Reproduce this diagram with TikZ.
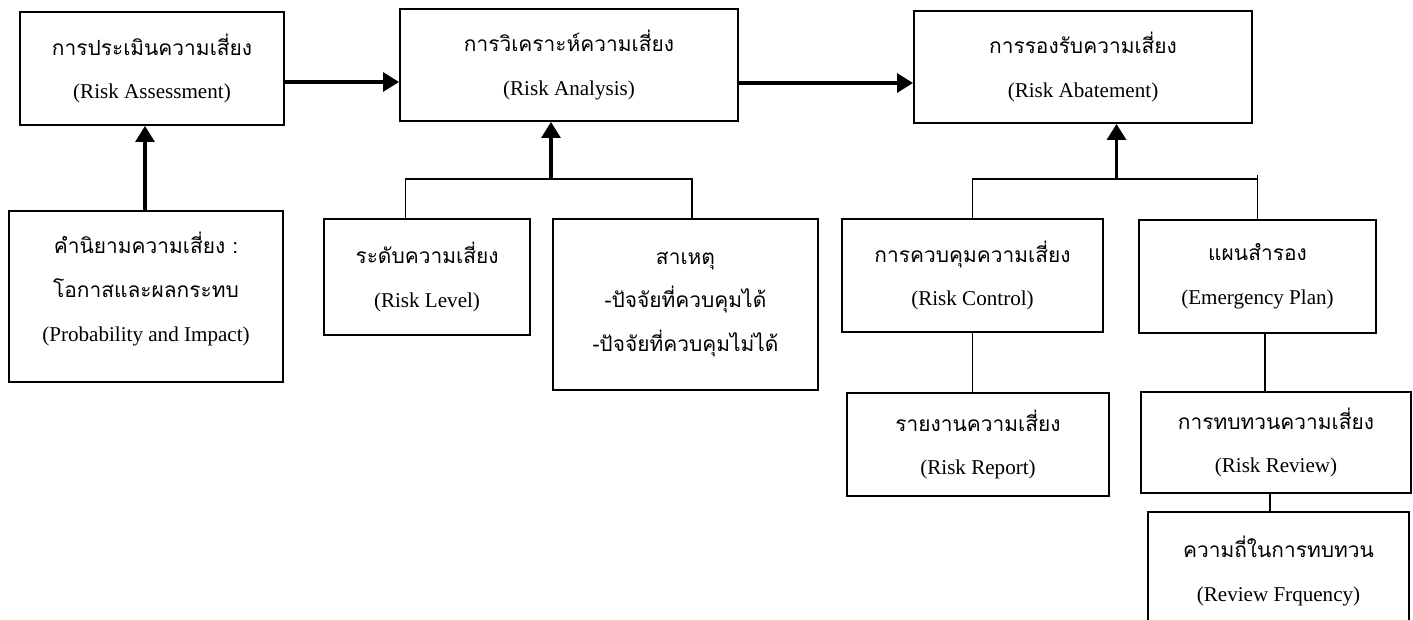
\documentclass[tikz,border=0pt]{standalone}
\usepackage{fontspec}
\setmainfont{Liberation Serif}
\newfontfamily\thaifont[Script=Thai]{Loma}
\newcommand{\thai}[1]{{\thaifont\fontsize{11.9}{25}\selectfont #1}}
\usetikzlibrary{positioning,arrows.meta}

\begin{document}
\begin{tikzpicture}

% Define styles
\tikzstyle{box} = [rectangle, draw=black, line width=1.1pt, align=center, inner sep=0pt, font=\fontsize{12}{25}\selectfont]
\tikzstyle{flow} = [line width=1.8pt, -{Triangle[length=0.32cm,width=0.38cm]}]
\tikzstyle{link} = [line width=0.6pt]

\useasboundingbox (0,0) rectangle (28.26,-12.38);

% Top row
\node [box, minimum width=5.28cm, minimum height=2.26cm] (assess) at (3.04,-1.37) {\thai{การประเมินความเสี่ยง}\\(Risk Assessment)};
\node [box, minimum width=6.76cm, minimum height=2.24cm] (analysis) at (11.38,-1.30) {\thai{การวิเคราะห์ความเสี่ยง}\\(Risk Analysis)};
\node [box, minimum width=6.76cm, minimum height=2.24cm] (abatement) at (21.66,-1.34) {\thai{การรองรับความเสี่ยง}\\(Risk Abatement)};

% Second row
\node [box, minimum width=5.48cm, minimum height=3.42cm] (prob) at (2.92,-5.93) {\thai{คำนิยามความเสี่ยง :}\\\thai{โอกาสและผลกระทบ}\\(Probability and Impact)\rule[-0.4cm]{0pt}{0pt}};
\node [box, minimum width=4.12cm, minimum height=2.32cm] (level) at (8.54,-5.54) {\thai{ระดับความเสี่ยง}\\(Risk Level)};
\node [box, minimum width=5.30cm, minimum height=3.42cm] (cause) at (13.71,-6.09) {\thai{สาเหตุ}\\\thai{-ปัจจัยที่ควบคุมได้}\\\thai{-ปัจจัยที่ควบคุมไม่ได้}};
\node [box, minimum width=5.22cm, minimum height=2.26cm] (control) at (19.45,-5.51) {\thai{การควบคุมความเสี่ยง}\\(Risk Control)};
\node [box, minimum width=4.74cm, minimum height=2.26cm] (plan) at (25.15,-5.53) {\thai{แผนสำรอง}\\(Emergency Plan)};

% Lower rows
\node [box, minimum width=5.24cm, minimum height=2.06cm] (report) at (19.56,-8.89) {\thai{รายงานความเสี่ยง}\\(Risk Report)};
\node [box, minimum width=5.40cm, minimum height=2.02cm] (review) at (25.52,-8.85) {\thai{การทบทวนความเสี่ยง}\\(Risk Review)};
\node [box, minimum width=5.22cm, minimum height=2.36cm] (freq) at (25.57,-11.42) {\thai{ความถี่ในการทบทวน}\\(Review Frquency)};

% Bracket points
\coordinate (anabar) at (11.02,-3.58);
\coordinate (anal) at (8.11,-3.58);
\coordinate (anar) at (13.84,-3.58);
\coordinate (abtbar) at (22.33,-3.58);

% Main flow
\draw [flow] ([yshift=-0.27cm]assess.east) -- ([yshift=-0.27cm]assess.east -| analysis.west);
\draw [flow] ([yshift=-0.36cm]analysis.east) -- ([yshift=-0.36cm]analysis.east -| abatement.west);
\draw [flow] (prob.north -| 2.90,0) -- (assess.south -| 2.90,0);
\draw [flow] (anabar) -- (anabar |- analysis.south);
\draw [flow] (abtbar) -- (abtbar |- abatement.south);

% Brackets
\draw [link] (anal |- level.north) -- (anal) -- (anar) -- (anar |- cause.north);
\draw [link] (control.north) -- (control.north |- abtbar) -- (plan.north |- abtbar);
\draw [link] (plan.north) -- ([yshift=0.08cm]plan.north |- abtbar);

% Sub-steps
\draw [link] (control.south) -- (control.south |- report.north);
\draw [link] ([xshift=0.15cm]plan.south) -- ([xshift=0.15cm]plan.south |- review.north);
\draw [link] ([xshift=-0.12cm]review.south) -- ([xshift=-0.12cm]review.south |- freq.north);

\end{tikzpicture}
\end{document}
